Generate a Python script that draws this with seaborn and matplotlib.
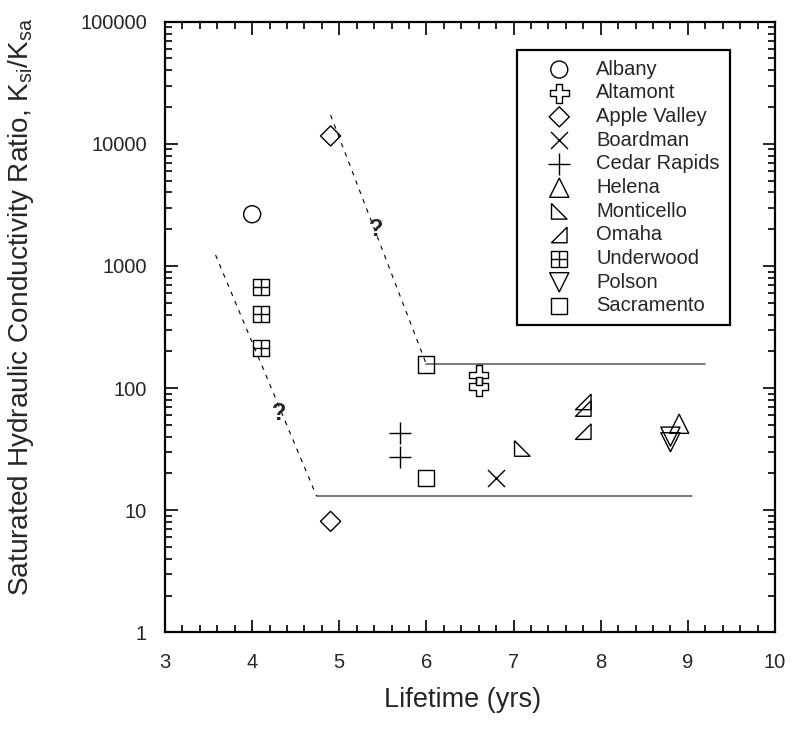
import numpy as np
import pandas as pd
import matplotlib
matplotlib.use("Agg")
import matplotlib.pyplot as plt
from matplotlib.path import Path
import seaborn as sns

# ---------------- data ----------------
sites = ["Albany", "Altamont", "Apple Valley", "Boardman", "Cedar Rapids",
         "Helena", "Monticello", "Omaha", "Underwood", "Polson", "Sacramento"]
albany_x = [4.0]
albany_y = [2650]
altamont_x = [6.6, 6.6]
altamont_y = [128, 103]
apple_x = [4.9, 4.9]
apple_y = [11600, 8.1]
boardman_x = [6.8]
boardman_y = [18.2]
cedar_x = [5.7, 5.7]
cedar_y = [43, 27.4]
helena_x = [8.9]
helena_y = [51]
monticello_x = [7.1]
monticello_y = [32]
omaha_x = [7.8, 7.8, 7.8]
omaha_y = [77, 68, 44]
underwood_x = [4.1, 4.1, 4.1]
underwood_y = [676, 402, 214]
polson_x = [8.8, 8.8]
polson_y = [40, 36]
sacramento_x = [6.0, 6.0]
sacramento_y = [156, 18.3]

# trend lines
upper_dash_x = [4.9, 6.0]
upper_dash_y = [17200, 156]
upper_flat_x = [6.0, 9.2]
upper_flat_y = [156, 156]
lower_dash_x = [3.58, 4.74]
lower_dash_y = [1230, 13]
lower_flat_x = [4.74, 9.05]
lower_flat_y = [13, 13]
q_x = [5.42, 4.31]
q_y = [1970, 62]

site_x = [albany_x, altamont_x, apple_x, boardman_x, cedar_x, helena_x,
          monticello_x, omaha_x, underwood_x, polson_x, sacramento_x]
site_y = [albany_y, altamont_y, apple_y, boardman_y, cedar_y, helena_y,
          monticello_y, omaha_y, underwood_y, polson_y, sacramento_y]

# ---------------- custom markers ----------------
M, L = Path.MOVETO, Path.LINETO
a, b = 0.33, 1.0
cross_outline = Path([(-a, b), (a, b), (a, a), (b, a), (b, -a), (a, -a), (a, -b),
                      (-a, -b), (-a, -a), (-b, -a), (-b, a), (-a, a), (-a, b)],
                     [M] + [L] * 12)
grid_square = Path([(-1, -1), (1, -1), (1, 1), (-1, 1), (-1, -1),
                    (0, -1), (0, 1), (-1, 0), (1, 0)],
                   [M, L, L, L, L, M, L, M, L])
tri_monti = Path([(-1, 1), (-1, -1), (1, -1), (-1, 1)], [M, L, L, L])
tri_omaha = Path([(1, 1), (1, -1), (-1, -1), (1, 1)], [M, L, L, L])

markers = {
    "Albany": ("o", 150),
    "Altamont": (cross_outline, 190),
    "Apple Valley": ("D", 105),
    "Boardman": ("x", 150),
    "Cedar Rapids": ("+", 230),
    "Helena": ("^", 190),
    "Monticello": (tri_monti, 125),
    "Omaha": (tri_omaha, 125),
    "Underwood": (grid_square, 135),
    "Polson": ("v", 190),
    "Sacramento": ("s", 135),
}

sns.set_theme(style="ticks")
plt.rcParams["font.family"] = ["Liberation Sans", "DejaVu Sans"]
plt.rcParams["mathtext.fontset"] = "custom"
plt.rcParams["mathtext.rm"] = "Liberation Sans"

fig = plt.figure(figsize=(7.93, 7.36), dpi=100)
ax = fig.add_axes([165 / 793, 1 - 632.3 / 736, 610 / 793, 610.6 / 736])

# lines
sns.lineplot(x=upper_dash_x, y=upper_dash_y, ax=ax, color="black", lw=0.8,
             linestyle=(0, (4, 5)), legend=False)
sns.lineplot(x=lower_dash_x, y=lower_dash_y, ax=ax, color="black", lw=0.8,
             linestyle=(0, (4, 5)), legend=False)
sns.lineplot(x=upper_flat_x, y=upper_flat_y, ax=ax, color="#555555", lw=1.1, legend=False)
sns.lineplot(x=lower_flat_x, y=lower_flat_y, ax=ax, color="#555555", lw=1.1, legend=False)

for name, xs, ys in zip(sites, site_x, site_y):
    mk, s = markers[name]
    if mk in ("x", "+"):
        sns.scatterplot(x=xs, y=ys, ax=ax, marker=mk, s=s, color="black",
                        linewidth=1.0, label=name, zorder=3)
    else:
        sns.scatterplot(x=xs, y=ys, ax=ax, marker=mk, s=s, facecolor="none",
                        edgecolor="black", linewidth=1.0, label=name, zorder=3)

for qx, qy in zip(q_x, q_y):
    ax.text(qx, qy, "?", fontsize=17, fontweight="bold", ha="center", va="center")

ax.set_yscale("log")
ax.set_xlim(3, 10)
ax.set_ylim(1, 100000)
ax.set_xticks(range(3, 11))
ax.set_xticklabels([str(v) for v in range(3, 11)])
ax.set_xticks(np.arange(3, 10.01, 0.2), minor=True)
ax.set_yticks([1, 10, 100, 1000, 10000, 100000])
ax.set_yticklabels(["1", "10", "100", "1000", "10000", "100000"])
ax.yaxis.set_minor_locator(matplotlib.ticker.LogLocator(base=10, subs=np.arange(2, 10), numticks=20))
ax.yaxis.set_minor_formatter(matplotlib.ticker.NullFormatter())

ax.tick_params(which="both", direction="in", top=True, right=True, color="black", width=1.2)
ax.tick_params(which="major", length=9, labelsize=14.5)
ax.tick_params(which="minor", length=5)
ax.tick_params(axis="y", which="major", pad=13)
ax.tick_params(axis="x", which="major", pad=15)
for sp in ax.spines.values():
    sp.set_linewidth(1.6)
    sp.set_color("black")

ax.set_xlabel("Lifetime (yrs)", fontsize=19.5)
ax.xaxis.set_label_coords(0.487, -0.09)
ax.set_ylabel(r"Saturated Hydraulic Conductivity Ratio, K$_{\mathregular{si}}$/K$_{\mathregular{sa}}$",
              fontsize=20.2)
ax.yaxis.set_label_coords(-0.212, 0.533)

leg = ax.legend(loc="upper left", bbox_to_anchor=(0.577, 0.954), borderaxespad=0,
                fontsize=14.5, frameon=True, fancybox=False, framealpha=1,
                edgecolor="black", borderpad=0.5, handlelength=3.2,
                handletextpad=0.23, labelspacing=0.23)
leg.get_frame().set_linewidth(1.6)

fig.savefig("out.png", dpi=100)
